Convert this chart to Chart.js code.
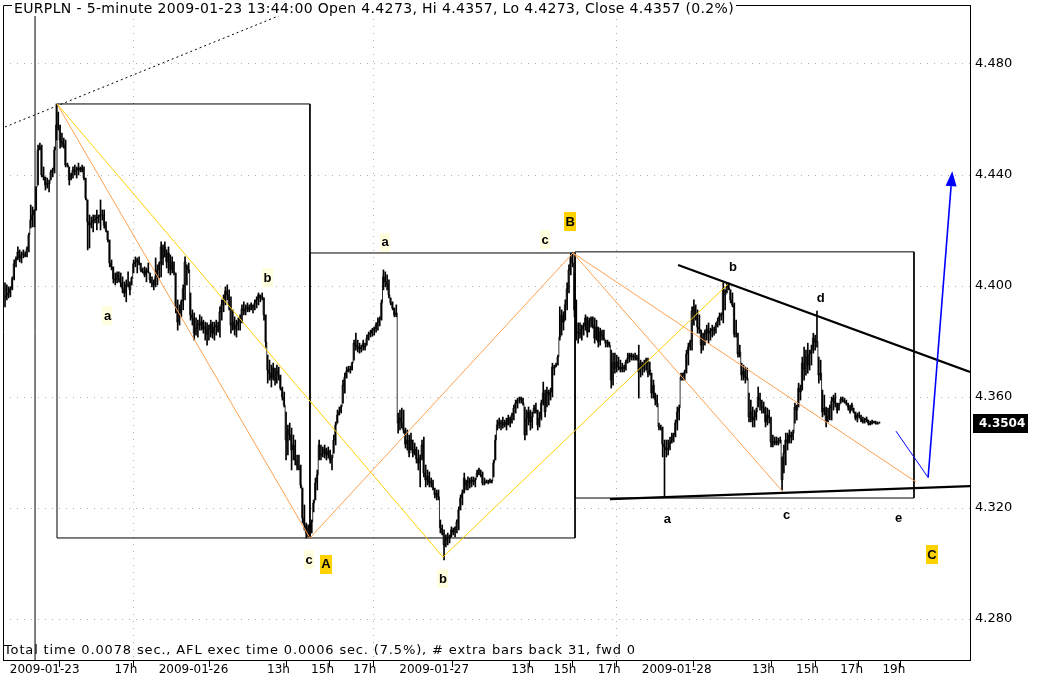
<!DOCTYPE html>
<html><head><meta charset="utf-8">
<script src="https://cdn.jsdelivr.net/npm/chart.js@4.4.0/dist/chart.umd.min.js"></script>
<style>html,body{margin:0;padding:0;background:#fff;overflow:hidden}canvas{display:block}</style>
</head><body>
<canvas id="c" width="1048" height="678"></canvas>
<script>
// ---- price bars (5-minute EURPLN), bar index = position on the time axis ----
const hi23 = [4.4011,4.4004,4.3997,4.3997,4.4033,4.4094,4.4105,4.4141,4.4130,4.4123,
4.4130,4.4123,4.4141,4.4191,4.4292,4.4285,4.4274,4.4357,4.4508,4.4515,
4.4508,4.4429,4.4393,4.4389,4.4382,4.4418,4.4425,4.4501,4.4656,4.4627,
4.4580,4.4551,4.4533,4.4526,4.4443,4.4429,4.4407,4.4429,4.4436,4.4429,
4.4443,4.4429,4.4436,4.4429,4.4389,4.4310,4.4256,4.4249,4.4256,4.4256,
4.4274,4.4256,4.4310,4.4274,4.4274,4.4231,4.4198,4.4166,4.4094,4.4069,
4.4047,4.4051,4.4051,4.4047,4.4033,4.4015,4.4022,4.4051,4.4015,4.4033,
4.4094,4.4105,4.4101,4.4105,4.4083,4.4065,4.4069,4.4065,4.4083,4.4047,
4.4033,4.4022];
const lo23 = [4.3925,4.3950,4.3957,4.3961,4.3986,4.4022,4.4069,4.4094,4.4087,4.4083,
4.4101,4.4105,4.4105,4.4123,4.4209,4.4213,4.4213,4.4273,4.4364,4.4490,
4.4393,4.4382,4.4346,4.4353,4.4339,4.4382,4.4393,4.4407,4.4526,4.4562,
4.4497,4.4501,4.4497,4.4429,4.4429,4.4364,4.4382,4.4389,4.4400,4.4389,
4.4400,4.4411,4.4411,4.4382,4.4310,4.4130,4.4137,4.4209,4.4195,4.4227,
4.4202,4.4227,4.4202,4.4238,4.4209,4.4195,4.4159,4.4069,4.4058,4.4011,
4.4004,4.4011,4.4015,4.3997,4.3975,4.3961,4.3943,4.3997,4.3968,4.4004,
4.4047,4.4069,4.4047,4.4076,4.4051,4.4047,4.4033,4.4015,4.4047,4.4011,
4.3997,4.3986];
const cl23 = [4.3960,4.3968,4.3975,4.3990,4.4026,4.4080,4.4098,4.4123,4.4101,4.4112,
4.4116,4.4109,4.4134,4.4184,4.4238,4.4256,4.4273,4.4357,4.4490,4.4501,
4.4400,4.4393,4.4364,4.4371,4.4368,4.4411,4.4418,4.4490,4.4580,4.4580,
4.4526,4.4519,4.4508,4.4436,4.4436,4.4382,4.4400,4.4418,4.4411,4.4418,
4.4425,4.4418,4.4425,4.4389,4.4317,4.4231,4.4220,4.4227,4.4238,4.4238,
4.4245,4.4249,4.4256,4.4256,4.4220,4.4202,4.4166,4.4083,4.4069,4.4026,
4.4022,4.4040,4.4026,4.4011,4.3990,4.3975,4.4004,4.4004,4.3986,4.4029,
4.4080,4.4087,4.4094,4.4083,4.4058,4.4051,4.4040,4.4058,4.4051,4.4022,
4.4011,4.4004];

const hi26 = [4.4101,4.4076,4.4087,4.4159,4.4148,4.4159,4.4130,4.4141,4.4112,4.4105,
4.4087,4.4047,4.3950,4.3932,4.3950,4.4004,4.4105,4.4076,4.4083,4.3975,
4.3914,4.3903,4.3885,4.3877,4.3896,4.3889,4.3877,4.3870,4.3867,4.3859,
4.3877,4.3870,4.3870,4.3877,4.3870,4.3925,4.3950,4.3968,4.3997,4.4004,
4.3986,4.3961,4.3914,4.3889,4.3877,4.3885,4.3896,4.3932,4.3943,4.3932,
4.3939,4.3932,4.3939,4.3932,4.3950,4.3961,4.3975,4.3968,4.3975,4.3957,
4.3896,4.3751,4.3733,4.3715,4.3722,4.3704,4.3715,4.3708,4.3679,4.3636,
4.3618,4.3546,4.3499,4.3506,4.3488,4.3463,4.3445,4.3391,4.3391,4.3355,
4.3272,4.3211,4.3146,4.3139,4.3143,4.3157,4.3229,4.3308,4.3337,4.3445,
4.3427,4.3420,4.3427,4.3416,4.3420,4.3409,4.3391,4.3463,4.3510,4.3553,
4.3564,4.3571,4.3661,4.3686,4.3708,4.3711,4.3711,4.3726,4.3805,4.3830,
4.3805,4.3794,4.3787,4.3805,4.3794,4.3823,4.3834,4.3841,4.3848,4.3852,
4.3867,4.3885,4.3889,4.3950,4.4058,4.4051,4.4040,4.4022,4.3957,4.3943,
4.3921,4.3932];
const lo26 = [4.3997,4.4004,4.4029,4.4033,4.4076,4.4105,4.4065,4.4047,4.4040,4.4047,
4.4040,4.3903,4.3841,4.3859,4.3889,4.3914,4.3950,4.4004,4.4047,4.3877,
4.3859,4.3805,4.3823,4.3816,4.3841,4.3841,4.3830,4.3805,4.3787,4.3805,
4.3816,4.3812,4.3805,4.3823,4.3834,4.3816,4.3877,4.3907,4.3932,4.3950,
4.3914,4.3830,4.3841,4.3823,4.3816,4.3841,4.3841,4.3867,4.3896,4.3896,
4.3907,4.3907,4.3914,4.3903,4.3914,4.3921,4.3932,4.3943,4.3950,4.3877,
4.3780,4.3650,4.3661,4.3636,4.3661,4.3643,4.3650,4.3661,4.3625,4.3589,
4.3564,4.3373,4.3391,4.3445,4.3337,4.3373,4.3355,4.3337,4.3337,4.3272,
4.3146,4.3121,4.3092,4.3096,4.3092,4.3110,4.3186,4.3229,4.3265,4.3373,
4.3373,4.3384,4.3380,4.3373,4.3380,4.3362,4.3337,4.3398,4.3427,4.3506,
4.3535,4.3542,4.3578,4.3614,4.3668,4.3690,4.3686,4.3697,4.3733,4.3769,
4.3762,4.3758,4.3762,4.3769,4.3769,4.3787,4.3805,4.3816,4.3819,4.3823,
4.3834,4.3841,4.3856,4.3877,4.3986,4.3997,4.3986,4.3957,4.3932,4.3914,
4.3889,4.3889];
const cl26 = [4.4033,4.4058,4.4080,4.4141,4.4101,4.4141,4.4087,4.4119,4.4058,4.4087,
4.4051,4.3925,4.3870,4.3903,4.3943,4.3990,4.4087,4.4069,4.4058,4.3896,
4.3885,4.3830,4.3848,4.3863,4.3859,4.3870,4.3845,4.3852,4.3827,4.3845,
4.3863,4.3830,4.3852,4.3859,4.3841,4.3907,4.3932,4.3950,4.3982,4.3968,
4.3932,4.3859,4.3870,4.3845,4.3859,4.3870,4.3885,4.3918,4.3910,4.3918,
4.3925,4.3914,4.3932,4.3925,4.3939,4.3950,4.3968,4.3957,4.3961,4.3896,
4.3798,4.3697,4.3686,4.3668,4.3704,4.3661,4.3693,4.3679,4.3632,4.3600,
4.3571,4.3445,4.3481,4.3463,4.3409,4.3427,4.3373,4.3355,4.3348,4.3283,
4.3164,4.3139,4.3110,4.3128,4.3135,4.3150,4.3218,4.3290,4.3319,4.3427,
4.3391,4.3398,4.3412,4.3391,4.3405,4.3373,4.3380,4.3445,4.3499,4.3535,
4.3546,4.3564,4.3643,4.3672,4.3693,4.3701,4.3697,4.3722,4.3794,4.3787,
4.3780,4.3773,4.3780,4.3794,4.3780,4.3812,4.3827,4.3830,4.3841,4.3845,
4.3859,4.3870,4.3881,4.3939,4.4033,4.4015,4.4004,4.3968,4.3939,4.3921,
4.3896,4.3903];

const hi27 = [4.3542,4.3553,4.3560,4.3553,4.3488,4.3481,4.3463,4.3470,4.3445,4.3434,
4.3420,4.3409,4.3391,4.3445,4.3456,4.3355,4.3337,4.3330,4.3308,4.3301,
4.3272,4.3265,4.3265,4.3157,4.3139,4.3121,4.3103,4.3110,4.3103,4.3132,
4.3128,4.3132,4.3157,4.3204,4.3247,4.3265,4.3326,4.3301,4.3312,4.3308,
4.3312,4.3312,4.3308,4.3337,4.3344,4.3337,4.3330,4.3308,4.3301,4.3301,
4.3305,4.3301,4.3373,4.3463,4.3517,4.3524,4.3517,4.3528,4.3517,4.3524,
4.3535,4.3528,4.3542,4.3571,4.3589,4.3596,4.3600,4.3600,4.3596,4.3564,
4.3553,4.3564,4.3553,4.3546,4.3571,4.3578,4.3553,4.3546,4.3589,4.3654,
4.3625,4.3636,4.3625,4.3632,4.3722,4.3715,4.3722,4.3751,4.3925,4.3914,
4.3907,4.3950,4.4011,4.4076,4.4119,4.4119,4.4047,4.3950,4.3867,4.3867,
4.3859,4.3867,4.3896,4.3889,4.3885,4.3889,4.3889,4.3885,4.3877,4.3852,
4.3848,4.3841,4.3841,4.3805,4.3805,4.3798,4.3769,4.3758,4.3758,4.3751,
4.3744,4.3733,4.3722,4.3715,4.3733,4.3758,4.3758,4.3758,4.3755,4.3758,
4.3751,4.3787];
const lo27 = [4.3470,4.3481,4.3488,4.3470,4.3416,4.3409,4.3384,4.3409,4.3384,4.3391,
4.3362,4.3337,4.3276,4.3373,4.3312,4.3276,4.3283,4.3276,4.3276,4.3265,
4.3236,4.3229,4.3229,4.3110,4.3103,4.3013,4.3060,4.3067,4.3074,4.3096,
4.3103,4.3096,4.3110,4.3121,4.3193,4.3211,4.3254,4.3265,4.3265,4.3272,
4.3276,4.3283,4.3276,4.3312,4.3319,4.3312,4.3283,4.3283,4.3290,4.3287,
4.3290,4.3290,4.3312,4.3373,4.3481,4.3488,4.3481,4.3488,4.3492,4.3481,
4.3499,4.3492,4.3506,4.3517,4.3542,4.3560,4.3578,4.3578,4.3571,4.3445,
4.3463,4.3499,4.3481,4.3488,4.3542,4.3542,4.3481,4.3492,4.3517,4.3571,
4.3528,4.3564,4.3571,4.3589,4.3600,4.3679,4.3708,4.3715,4.3805,4.3823,
4.3841,4.3877,4.3914,4.3975,4.4040,4.4069,4.3889,4.3805,4.3794,4.3812,
4.3805,4.3823,4.3841,4.3816,4.3834,4.3852,4.3848,4.3794,4.3805,4.3780,
4.3787,4.3805,4.3805,4.3780,4.3780,4.3780,4.3632,4.3643,4.3686,4.3690,
4.3697,4.3690,4.3690,4.3690,4.3697,4.3722,4.3726,4.3733,4.3733,4.3733,
4.3733,4.3596];
const cl27 = [4.3506,4.3524,4.3506,4.3481,4.3430,4.3445,4.3398,4.3445,4.3398,4.3412,
4.3377,4.3362,4.3380,4.3427,4.3326,4.3301,4.3315,4.3290,4.3294,4.3272,
4.3247,4.3254,4.3240,4.3128,4.3110,4.3067,4.3085,4.3096,4.3092,4.3121,
4.3114,4.3128,4.3150,4.3193,4.3236,4.3254,4.3308,4.3283,4.3297,4.3290,
4.3301,4.3294,4.3301,4.3326,4.3337,4.3319,4.3290,4.3290,4.3294,4.3294,
4.3297,4.3297,4.3362,4.3445,4.3499,4.3510,4.3506,4.3499,4.3510,4.3499,
4.3524,4.3506,4.3535,4.3560,4.3578,4.3589,4.3589,4.3596,4.3578,4.3463,
4.3524,4.3546,4.3510,4.3528,4.3560,4.3553,4.3499,4.3524,4.3578,4.3614,
4.3546,4.3618,4.3607,4.3618,4.3708,4.3704,4.3715,4.3744,4.3816,4.3896,
4.3870,4.3932,4.3990,4.4058,4.4101,4.4083,4.3914,4.3830,4.3834,4.3827,
4.3845,4.3856,4.3885,4.3834,4.3874,4.3881,4.3856,4.3812,4.3852,4.3798,
4.3834,4.3823,4.3812,4.3794,4.3798,4.3787,4.3661,4.3722,4.3704,4.3726,
4.3708,4.3701,4.3708,4.3704,4.3726,4.3740,4.3751,4.3744,4.3748,4.3744,
4.3740,4.3690];

const hi28 = [4.3733,4.3726,4.3733,4.3740,4.3740,4.3726,4.3686,4.3661,4.3614,4.3607,
4.3506,4.3499,4.3492,4.3445,4.3445,4.3445,4.3456,4.3470,4.3470,4.3517,
4.3564,4.3571,4.3686,4.3686,4.3697,4.3769,4.3794,4.3805,4.3925,4.3950,
4.3932,4.3914,4.3896,4.3841,4.3830,4.3841,4.3859,4.3867,4.3848,4.3859,
4.3852,4.3867,4.3885,4.3903,4.3903,4.4011,4.3986,4.4011,4.4011,4.3986,
4.3975,4.3939,4.3877,4.3830,4.3787,4.3722,4.3715,4.3708,4.3704,4.3614,
4.3589,4.3564,4.3553,4.3560,4.3636,4.3614,4.3589,4.3582,4.3564,4.3560,
4.3553,4.3528,4.3463,4.3456,4.3456,4.3452,4.3456,4.3384,4.3427,4.3470,
4.3470,4.3481,4.3474,4.3481,4.3578,4.3571,4.3650,4.3643,4.3744,4.3780,
4.3769,4.3794,4.3769,4.3787,4.3830,4.3823,4.3910,4.3744,4.3733,4.3625,
4.3607,4.3564,4.3560,4.3571,4.3600,4.3607,4.3614,4.3578,4.3578,4.3600,
4.3600,4.3596,4.3589,4.3578,4.3571,4.3578,4.3560,4.3546,4.3542,4.3546,
4.3535,4.3528,4.3524,4.3528,4.3517,4.3513,4.3517,4.3513,4.3513,4.3510,4.3510];
const lo28 = [4.3672,4.3679,4.3690,4.3697,4.3672,4.3679,4.3596,4.3596,4.3571,4.3564,
4.3481,4.3481,4.3384,4.3240,4.3384,4.3391,4.3409,4.3434,4.3438,4.3456,
4.3481,4.3517,4.3661,4.3661,4.3661,4.3686,4.3715,4.3769,4.3769,4.3859,
4.3877,4.3830,4.3830,4.3758,4.3769,4.3787,4.3805,4.3794,4.3805,4.3816,
4.3823,4.3830,4.3852,4.3859,4.3877,4.3867,4.3914,4.3975,4.3986,4.3939,
4.3925,4.3816,4.3816,4.3744,4.3744,4.3661,4.3661,4.3650,4.3661,4.3510,
4.3510,4.3492,4.3492,4.3517,4.3564,4.3553,4.3542,4.3542,4.3492,4.3499,
4.3506,4.3420,4.3420,4.3427,4.3427,4.3427,4.3434,4.3265,4.3326,4.3355,
4.3409,4.3434,4.3434,4.3445,4.3506,4.3517,4.3564,4.3589,4.3625,4.3661,
4.3679,4.3686,4.3697,4.3715,4.3758,4.3769,4.3780,4.3650,4.3661,4.3528,
4.3535,4.3492,4.3510,4.3517,4.3517,4.3553,4.3564,4.3542,4.3553,4.3578,
4.3582,4.3578,4.3571,4.3553,4.3542,4.3553,4.3542,4.3517,4.3510,4.3524,
4.3510,4.3506,4.3506,4.3510,4.3499,4.3499,4.3502,4.3506,4.3502,4.3502,4.3506];
const cl28 = [4.3722,4.3704,4.3722,4.3733,4.3686,4.3697,4.3614,4.3643,4.3589,4.3578,
4.3492,4.3488,4.3430,4.3420,4.3409,4.3416,4.3434,4.3445,4.3463,4.3506,
4.3546,4.3560,4.3672,4.3679,4.3690,4.3755,4.3780,4.3798,4.3910,4.3925,
4.3896,4.3852,4.3845,4.3787,4.3812,4.3827,4.3845,4.3830,4.3838,4.3845,
4.3841,4.3859,4.3874,4.3892,4.3896,4.3990,4.3968,4.4000,4.3993,4.3950,
4.3932,4.3827,4.3830,4.3755,4.3762,4.3679,4.3693,4.3672,4.3668,4.3528,
4.3546,4.3517,4.3528,4.3546,4.3600,4.3589,4.3564,4.3560,4.3510,4.3535,
4.3524,4.3438,4.3434,4.3441,4.3434,4.3441,4.3445,4.3301,4.3398,4.3445,
4.3434,4.3463,4.3456,4.3470,4.3564,4.3553,4.3632,4.3618,4.3722,4.3701,
4.3744,4.3715,4.3755,4.3769,4.3812,4.3798,4.3801,4.3679,4.3686,4.3546,
4.3560,4.3510,4.3528,4.3560,4.3585,4.3596,4.3578,4.3553,4.3571,4.3593,
4.3589,4.3585,4.3578,4.3564,4.3549,4.3571,4.3546,4.3524,4.3535,4.3531,
4.3517,4.3513,4.3517,4.3520,4.3506,4.3502,4.3510,4.3510,4.3506,4.3504,4.3504];

// ---- axes ----
const xTickIdx    = [1, 58, 82, 141, 165, 188, 213, 274, 297, 321, 345, 405, 429, 453, 476];
const xTickLabels = ['2009-01-23','17h','2009-01-26','13h','15h','17h','2009-01-27','13h','15h','17h','2009-01-28','13h','15h','17h','19h'];
const yTicks = [4.28, 4.32, 4.36, 4.40, 4.44, 4.48];

// ---- drawn studies, in (bar index, price) ----
const boxes = [[28.3,4.4656,166,4.3092],[166,4.4119,310.3,4.3092],[310.3,4.4123,494.8,4.3236]];
const yellowLines = [[28.3,4.4656,238.4,4.3023],[238.4,4.3023,393.6,4.4007]];
const orangeLines = [[28.3,4.4656,166,4.3092],[166,4.3092,309.2,4.4119],[309.2,4.4119,423.5,4.3258],[309.2,4.4119,495.9,4.3294]];
const dottedLine = [[0,4.4573],[170,4.5030]];
const trendLines = [[366.4,4.4076,525.3,4.3690],[329.3,4.3232,525.3,4.3279]];
const blueDown = [[485,4.3477],[502.5,4.3310]];
const blueUp = [[502.5,4.3310],[515,4.4360]];
const cursorIdx = 16.35;
const minorLabels = [['a',55.8,4.3895],['b',142.9,4.4031],['c',165.5,4.3016],['a',206.9,4.4159],['b',238.4,4.2948],['c',294,4.4169]];
const majorLabels = [['A',174.7,4.2999],['B',307.6,4.4234],['C',504.6,4.3034]];
const plainLabels = [['a',360.5,4.3163],['b',396.3,4.4072],['c',425.5,4.3178],['d',444.0,4.3959],['e',486.5,4.3167]];
const titleText = 'EURPLN - 5-minute 2009-01-23 13:44:00 Open 4.4273, Hi 4.4357, Lo 4.4273, Close 4.4357 (0.2%)';
const statusText = 'Total time 0.0078 sec., AFL exec time 0.0006 sec. (7.5%), # extra bars back 31, fwd 0';

const highs = [...hi23, ...hi26, ...hi27, ...hi28];
const lows = [...lo23, ...lo26, ...lo27, ...lo28];
const closes = [...cl23, ...cl26, ...cl27, ...cl28];
const dayTicks = new Set([xTickIdx[0], xTickIdx[2], xTickIdx[6], xTickIdx[10]]);

const pts = a => a.map(p => ({x:p[0], y:p[1]}));
const seg = s => [{x:s[0],y:s[1]},{x:s[2],y:s[3]}];
const rect = b => [{x:b[0],y:b[1]},{x:b[2],y:b[1]},{x:b[2],y:b[3]},{x:b[0],y:b[3]},{x:b[0],y:b[1]}];
const lineDs = (data, color, width, order, dash) => ({type:'line', data, borderColor:color, borderWidth:width, pointRadius:0, fill:false, tension:0, order, borderDash:dash||[], spanGaps:true});

const datasets = [];
datasets.push(lineDs([{x:cursorIdx,y:4.2},{x:cursorIdx,y:4.6}], '#000', 1, 1));
datasets.push(lineDs(pts(blueUp), '#0000ff', 1.6, 2));
datasets.push(lineDs(pts(blueDown), '#0000ff', 1, 2));
trendLines.forEach(t => datasets.push(lineDs(seg(t), '#000', 2.2, 3)));
yellowLines.forEach(t => datasets.push(lineDs(seg(t), '#ffd000', 1, 4)));
orangeLines.forEach(t => datasets.push(lineDs(seg(t), '#ffa050', 1, 4)));
datasets.push({type:'bar', data: highs.map((h,i)=>({x:i, y:[lows[i], h]})), backgroundColor:'#000', borderWidth:0, barThickness:1, grouped:false, order:6});
datasets.push(lineDs(closes.map((c,i)=>({x:i,y:c})), '#000', 0.8, 7));
datasets[datasets.length-1].stepped = 'middle';
datasets.push(lineDs(pts(dottedLine), '#000', 1, 8, [2,3]));
boxes.forEach(b => datasets.push(lineDs(rect(b), '#000', 1, 9)));

const decor = {
  id: 'decor',
  beforeDatasetsDraw(chart) {
    const {ctx, chartArea:a} = chart;
    ctx.save();
    ctx.font = '13px "DejaVu Sans"';
    ctx.letterSpacing = '0.85px';
    ctx.fillStyle = '#000'; ctx.textAlign = 'left'; ctx.textBaseline = 'middle';
    ctx.fillText(statusText, a.left + 1, a.bottom - 9);
    ctx.restore();
  },
  afterDatasetsDraw(chart) {
    const {ctx, scales:{x, y}} = chart;
    ctx.save();
    ctx.font = 'bold 13px "Liberation Sans"';
    ctx.textAlign = 'center'; ctx.textBaseline = 'middle';
    const draw = (arr, bg) => arr.forEach(L => {
      const px = x.getPixelForValue(L[1]), py = y.getPixelForValue(L[2]);
      if (bg) {
        const w = ctx.measureText(L[0]).width + 3;
        ctx.fillStyle = bg; ctx.fillRect(Math.round(px - w/2), Math.round(py - 9), Math.round(w), 19);
      }
      ctx.fillStyle = '#000'; ctx.fillText(L[0], px, py + 1);
    });
    draw(minorLabels, '#ffffe0');
    draw(majorLabels, '#ffd200');
    draw(plainLabels, null);
    // arrow head on the projected move
    const p0 = {x:x.getPixelForValue(blueUp[0][0]), y:y.getPixelForValue(blueUp[0][1])};
    const p1 = {x:x.getPixelForValue(blueUp[1][0]), y:y.getPixelForValue(blueUp[1][1])};
    const dx = p1.x - p0.x, dy = p1.y - p0.y, L = Math.hypot(dx, dy), ux = dx/L, uy = dy/L;
    ctx.fillStyle = '#0000ff';
    ctx.beginPath();
    ctx.moveTo(p1.x + ux*15, p1.y + uy*15);
    ctx.lineTo(p1.x - uy*5.5, p1.y + ux*5.5);
    ctx.lineTo(p1.x + uy*5.5, p1.y - ux*5.5);
    ctx.closePath(); ctx.fill();
    ctx.restore();
  },
  afterDraw(chart) {
    const {ctx, chartArea:a, scales:{y}} = chart;
    ctx.save();
    ctx.strokeStyle = '#000'; ctx.lineWidth = 1;
    ctx.beginPath();
    ctx.moveTo(a.left + 0.5, a.bottom); ctx.lineTo(a.left + 0.5, a.top + 0.5); ctx.lineTo(a.right, a.top + 0.5);
    ctx.stroke();
    ctx.font = '14px "DejaVu Sans"';
    ctx.letterSpacing = '0.35px';
    const tw = ctx.measureText(titleText).width;
    ctx.fillStyle = '#fff'; ctx.fillRect(a.left + 9, 0, tw + 4, 16);
    ctx.fillStyle = '#000'; ctx.textAlign = 'left'; ctx.textBaseline = 'top';
    ctx.fillText(titleText, a.left + 11, 2);
    ctx.letterSpacing = '0px';
    // last price tag
    const last = closes[closes.length - 1];
    const py = Math.round(y.getPixelForValue(last));
    ctx.fillStyle = '#000'; ctx.fillRect(a.right + 3, py - 10, 55, 19);
    ctx.font = 'bold 12px "DejaVu Sans"'; ctx.fillStyle = '#fff'; ctx.textBaseline = 'middle';
    ctx.fillText(last.toFixed(4), a.right + 9, py);
    ctx.restore();
  }
};

new Chart(document.getElementById('c'), {
  type: 'line',
  data: { datasets },
  options: {
    responsive: false, animation: false, devicePixelRatio: 1,
    layout: { padding: { left: 3, top: 5, right: 0, bottom: 0 } },
    plugins: { legend: { display: false }, tooltip: { enabled: false } },
    scales: {
      x: {
        type: 'linear', min: -1.09, max: 525.3, offset: false,
        afterBuildTicks: s => { s.ticks = xTickIdx.map(v => ({value: v})); },
        afterFit: s => { s.height = 18; s.paddingLeft = 0; s.paddingRight = 0; },
        ticks: { autoSkip: false, maxRotation: 0, minRotation: 0, align: 'start', labelOffset: 3, padding: -4,
                 color: '#000', font: { family: 'DejaVu Sans', size: 12 }, callback: (v, i) => xTickLabels[i] },
        grid: { color: c => (c.tick && dayTicks.has(c.tick.value)) ? '#b0b0b0' : 'rgba(0,0,0,0)',
                tickColor: '#000', tickLength: 7, tickWidth: 1, lineWidth: 1 },
        border: { display: true, color: '#000', width: 1, dash: [1, 6] }
      },
      y: {
        position: 'right', min: 4.26523, max: 4.50126,
        afterBuildTicks: s => { s.ticks = yTicks.map(v => ({value: v})); },
        afterFit: s => { s.width = 78; s.paddingTop = 0; s.paddingBottom = 0; },
        ticks: { padding: 5, color: '#000', font: { family: 'DejaVu Sans', size: 13 }, callback: v => v.toFixed(3) },
        grid: { color: '#b0b0b0', drawTicks: false, lineWidth: 1 },
        border: { display: true, color: '#000', width: 1, dash: [1, 6] }
      }
    }
  },
  plugins: [decor]
});
</script>
</body></html>
